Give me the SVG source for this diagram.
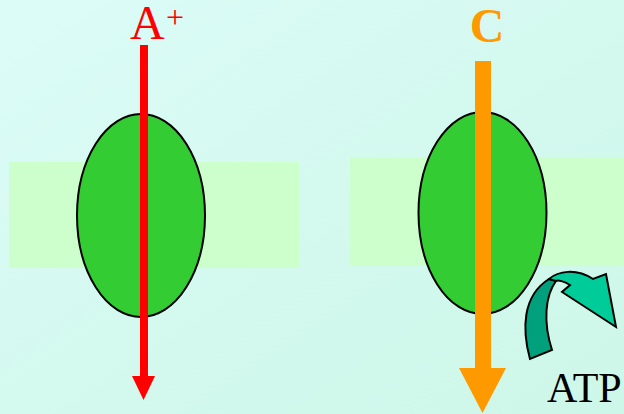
<svg xmlns="http://www.w3.org/2000/svg" width="624" height="414" viewBox="0 0 624 414">
<defs>
<style>
.mem{fill:#ccffcc}
.prot{fill:#33cc33;stroke:#000;stroke-width:2}
.lbl{font-family:"Liberation Serif","Times New Roman",serif}
.atpD{fill:#00a07c;stroke:#000;stroke-width:2;stroke-linejoin:miter}
.atpL{fill:#00cc99;stroke:#000;stroke-width:2;stroke-linejoin:miter}
</style>
<linearGradient id="bgg" x1="0" y1="0" x2="1" y2="1">
<stop offset="0" stop-color="#dcfcf8"/>
<stop offset="0.5" stop-color="#d4f9ef"/>
<stop offset="1" stop-color="#cdf7e8"/>
</linearGradient>
</defs>
<rect x="0" y="0" width="624" height="414" fill="url(#bgg)"/>
<g id="membrane-left"><rect class="mem" x="9" y="162" width="290" height="106"/></g>
<g id="membrane-right"><rect class="mem" x="350" y="158" width="274" height="108"/></g>
<g id="protein-left"><ellipse class="prot" cx="141" cy="215.5" rx="64" ry="101.5"/></g>
<g id="protein-right"><ellipse class="prot" cx="482.5" cy="213" rx="64" ry="101"/></g>
<g id="connectors">
<g id="arrow-A">
<rect x="140" y="45" width="8" height="332" fill="#ff0000"/>
<polygon points="132,376 155,376 143.5,400" fill="#ff0000"/>
</g>
<g id="arrow-C">
<rect x="475" y="61" width="16" height="308" fill="#ff9900"/>
<polygon points="459,368 506,368 482.5,413" fill="#ff9900"/>
</g>
<g id="arrow-ATP">
<path class="atpD" d="M530,359 C522,330 522,296 549,279 L556,281 C545,296 543,322 552,350 Z"/>
<path class="atpL" d="M549,279 C558,271 576,268 593,279 L606,274 L616,327 L562,292 L570,285 C564,281 558,280 556,281 Z"/>
</g>
</g>
<g id="label-A">
<text class="lbl" x="130" y="39" font-size="48" fill="#ff0000">A</text>
<text class="lbl" x="166" y="28" font-size="32" fill="#ff0000">+</text>
</g>
<g id="label-C"><text class="lbl" x="487" y="42" font-size="48" font-weight="bold" fill="#ff9900" text-anchor="middle">C</text></g>
<g id="label-ATP"><text class="lbl" x="547" y="402" font-size="42" fill="#000">ATP</text></g>
</svg>
